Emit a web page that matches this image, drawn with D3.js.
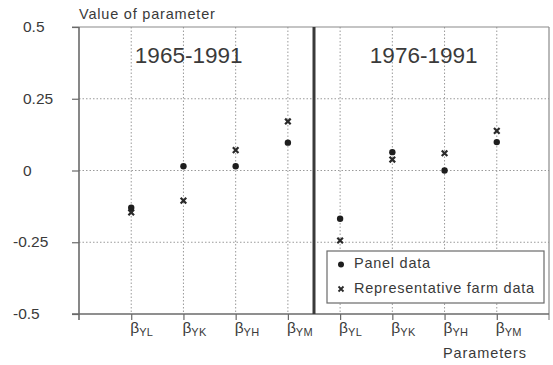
<!DOCTYPE html>
<html>
<head>
<meta charset="utf-8">
<script src="https://cdn.jsdelivr.net/npm/d3@7"></script>
<style>
  html, body { margin: 0; padding: 0; background: #fff; }
  svg { display: block; font-family: "Liberation Sans", Arial, Helvetica, sans-serif; }
</style>
</head>
<body>
<svg id="chart" width="553" height="365"></svg>
<script>
// Parameter estimates by period
const periods = ["1965-1991", "1976-1991"];
const paramSubs = ["YL", "YK", "YH", "YM"];
const panelData = [-0.13, 0.015, 0.015, 0.097, -0.168, 0.064, 0.0, 0.099];
const farmData = [-0.146, -0.105, 0.071, 0.171, -0.244, 0.038, 0.06, 0.138];
const yTicks = [0.5, 0.25, 0, -0.25, -0.5];
const yTickLabels = ["0.5", "0.25", "0", "-0.25", "-0.5"];
const legendLabels = ["Panel data", "Representative farm data"];

const svg = d3.select("#chart");
const plotL = 79, plotR = 549, plotT = 27, plotB = 314;

// Eight parameter slots (4 per period) on a 0..9 linear axis
const x = d3.scaleLinear().domain([0, 9]).range([plotL, plotR]);
const y = d3.scaleLinear().domain([-0.5, 0.5]).range([plotB, plotT]);
const slots = d3.range(1, 9);

const axisCol = "#6a6a6a", gridCol = "#9a9a9a", textCol = "#3a3a3a";

// Dotted grid
const grid = svg.append("g");
grid.selectAll("line.h").data([0.25, 0, -0.25]).join("line")
  .attr("x1", plotL).attr("x2", plotR)
  .attr("y1", d => y(d)).attr("y2", d => y(d))
  .attr("stroke", gridCol).attr("stroke-width", 1).attr("stroke-dasharray", "1.5,2");
grid.selectAll("line.v").data(slots).join("line")
  .attr("x1", d => x(d)).attr("x2", d => x(d))
  .attr("y1", plotT).attr("y2", plotB)
  .attr("stroke", gridCol).attr("stroke-width", 1).attr("stroke-dasharray", "1.5,2");

// Frame: top and right edges
svg.append("line").attr("x1", plotL - 7).attr("x2", plotR).attr("y1", plotT).attr("y2", plotT)
  .attr("stroke", "#8a8a8a").attr("stroke-width", 1.2);
svg.append("line").attr("x1", plotR).attr("x2", plotR).attr("y1", plotT).attr("y2", plotB + 6)
  .attr("stroke", "#8a8a8a").attr("stroke-width", 1.2);

// Y axis with ticks
const yAxis = d3.axisLeft(y).tickValues(yTicks).tickSize(7).tickFormat("");
const yG = svg.append("g").attr("transform", `translate(${plotL},0)`).call(yAxis);
yG.select(".domain").remove();
yG.selectAll(".tick line").attr("stroke", axisCol).attr("stroke-width", 1.2);
svg.append("line").attr("x1", plotL).attr("x2", plotL).attr("y1", plotT).attr("y2", plotB + 6)
  .attr("stroke", axisCol).attr("stroke-width", 1.6);

// Y tick labels: digits aligned, minus sign hanging to the left
svg.append("g").selectAll("text").data(yTicks).join("text")
  .attr("x", (d, i) => yTickLabels[i].startsWith("-") ? 13 : 23)
  .attr("y", d => y(d) + 5)
  .attr("font-size", 15.5).attr("fill", textCol)
  .text((d, i) => yTickLabels[i]);

// X axis with ticks
const xAxis = d3.axisBottom(x).tickValues(slots).tickSize(6).tickFormat("");
const xG = svg.append("g").attr("transform", `translate(0,${plotB})`).call(xAxis);
xG.select(".domain").remove();
xG.selectAll(".tick line").attr("stroke", axisCol).attr("stroke-width", 1.2);
svg.append("line").attr("x1", plotL - 7).attr("x2", plotR).attr("y1", plotB).attr("y2", plotB)
  .attr("stroke", axisCol).attr("stroke-width", 1.6);

// Parameter labels: beta with subscript
const xl = svg.append("g").selectAll("text").data(slots).join("text")
  .attr("x", d => x(d) - 1).attr("y", 333)
  .attr("fill", textCol);
xl.append("tspan").attr("font-size", 15.5).text("\u03B2");
xl.append("tspan").attr("font-size", 11).attr("dy", 3).attr("letter-spacing", 0.3)
  .text((d, i) => paramSubs[i % 4]);

// Period divider
svg.append("line").attr("x1", x(4.5)).attr("x2", x(4.5)).attr("y1", plotT).attr("y2", plotB)
  .attr("stroke", "#3a3a3a").attr("stroke-width", 3);

// Period titles
svg.append("g").selectAll("text").data(periods).join("text")
  .attr("x", (d, i) => x(i === 0 ? 2.1 : 6.6))
  .attr("y", 63)
  .attr("text-anchor", "middle")
  .attr("font-size", 22.5).attr("fill", textCol)
  .text(d => d);

// Axis titles
svg.append("text").attr("x", 79).attr("y", 19).attr("font-size", 14.5)
  .attr("letter-spacing", 0.8).attr("fill", textCol)
  .text("Value of parameter");
svg.append("text").attr("x", 443).attr("y", 358).attr("font-size", 14.5)
  .attr("letter-spacing", 0.9).attr("fill", textCol)
  .text("Parameters");

// Markers
const crossPath = s => `M${-s},${-s}L${s},${s}M${-s},${s}L${s},${-s}`;
const marks = svg.append("g");
marks.selectAll("path.farm").data(farmData).join("path")
  .attr("transform", (d, i) => `translate(${x(i + 1)},${y(d)})`)
  .attr("d", crossPath(2.8))
  .attr("stroke", "#2a2a2a").attr("stroke-width", 2.2).attr("fill", "none");
marks.selectAll("circle.panel").data(panelData).join("circle")
  .attr("cx", (d, i) => x(i + 1)).attr("cy", d => y(d)).attr("r", 3.2)
  .attr("fill", "#1e1e1e");

// Legend
const lg = svg.append("g");
lg.append("rect").attr("x", 327).attr("y", 251).attr("width", 217).attr("height", 52)
  .attr("fill", "#fff").attr("stroke", "#6a6a6a").attr("stroke-width", 1.2);
lg.append("circle").attr("cx", 341).attr("cy", 264.5).attr("r", 3).attr("fill", "#1e1e1e");
lg.append("path").attr("transform", "translate(341,289)").attr("d", crossPath(2.5))
  .attr("stroke", "#2a2a2a").attr("stroke-width", 1.8);
lg.selectAll("text").data(legendLabels).join("text")
  .attr("x", 354).attr("y", (d, i) => 268 + i * 24.5)
  .attr("font-size", 14.5).attr("letter-spacing", 0.75).attr("fill", textCol)
  .text(d => d);
</script>
</body>
</html>
